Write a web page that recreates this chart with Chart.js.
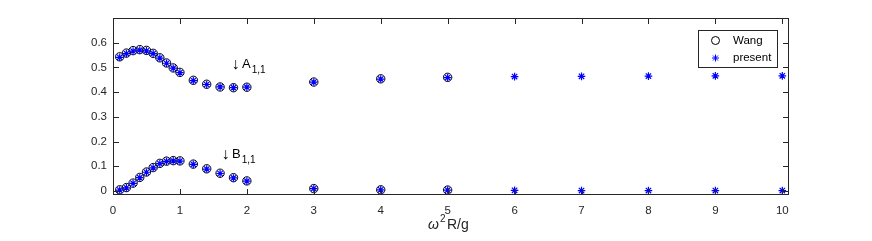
<!DOCTYPE html>
<html>
<head>
<meta charset="utf-8">
<script src="https://cdn.jsdelivr.net/npm/chart.js@4.4.0/dist/chart.umd.min.js"></script>
<style>
  html, body { margin: 0; padding: 0; background: #fff; }
  #wrap { width: 872px; height: 241px; }
</style>
</head>
<body>
<div id="wrap"><canvas id="myChart"></canvas></div>
<script>
// omega^2 R / g
var xs = [0.1, 0.2, 0.3, 0.4, 0.5, 0.6, 0.7, 0.8, 0.9, 1.0, 1.2, 1.4, 1.6, 1.8, 2.0, 3, 4, 5, 6, 7, 8, 9, 10];
var presentA = [0.541, 0.556, 0.566, 0.570, 0.567, 0.556, 0.538, 0.517, 0.497, 0.479, 0.447, 0.431, 0.421, 0.418, 0.420, 0.441, 0.453, 0.459, 0.463, 0.464, 0.465, 0.466, 0.466];
var presentB = [0.004, 0.013, 0.031, 0.054, 0.076, 0.094, 0.111, 0.120, 0.122, 0.121, 0.108, 0.089, 0.071, 0.053, 0.040, 0.010, 0.005, 0.004, 0.003, 0.002, 0.002, 0.002, 0.002];
// Wang only goes up to 5
var wangA = [0.543, 0.558, 0.568, 0.572, 0.569, 0.557, 0.539, 0.518, 0.498, 0.480, 0.448, 0.432, 0.421, 0.418, 0.420, 0.441, 0.454, 0.460];
var wangB = [0.005, 0.014, 0.032, 0.055, 0.077, 0.095, 0.112, 0.121, 0.123, 0.122, 0.109, 0.090, 0.072, 0.054, 0.041, 0.010, 0.005, 0.004];
var xTicks = [0, 1, 2, 3, 4, 5, 6, 7, 8, 9, 10];
var yTicks = [0, 0.1, 0.2, 0.3, 0.4, 0.5, 0.6];

function pts(ys) {
  return ys.map(function (y, i) { return { x: xs[i], y: y }; });
}

var axisColor = '#262626';
var fontFam = '"Liberation Sans", Arial, sans-serif';

var boxPlugin = {
  id: 'matlabBox',
  afterDraw: function (chart) {
    var c = chart.ctx, a = chart.chartArea;
    var sx = chart.scales.x, sy = chart.scales.y;
    c.save();
    c.strokeStyle = axisColor;
    c.lineWidth = 1;
    c.strokeRect(a.left + 0.5, a.top + 0.5, a.right - a.left - 1, a.bottom - a.top - 1);
    c.beginPath();
    xTicks.forEach(function (v) {
      var px = Math.round(sx.getPixelForValue(v)) + 0.5;
      c.moveTo(px, a.bottom); c.lineTo(px, a.bottom - 6);
      c.moveTo(px, a.top); c.lineTo(px, a.top + 6);
    });
    yTicks.forEach(function (v) {
      var py = Math.round(sy.getPixelForValue(v)) + 0.5;
      c.moveTo(a.left, py); c.lineTo(a.left + 6, py);
      c.moveTo(a.right, py); c.lineTo(a.right - 6, py);
    });
    c.stroke();

    // annotations
    c.fillStyle = '#000';
    c.textBaseline = 'alphabetic';
    function label(xv, yv, letter) {
      var px = sx.getPixelForValue(xv), py = sy.getPixelForValue(yv);
      c.font = '16px ' + fontFam;
      c.fillText('\u2193', px - 1, py + 1);
      c.font = '13px ' + fontFam;
      c.fillText(letter, px + 9.5, py);
      var w = c.measureText(letter).width;
      c.font = '10px ' + fontFam;
      c.fillText('1,1', px + 9.5 + w + 1, py + 4.5);
    }
    label(1.787, 0.497, 'A');
    label(1.637, 0.132, 'B');

    // x axis label
    c.font = 'italic 14px ' + fontFam;
    var lx = 428, ly = 229;
    c.fillStyle = axisColor;
    c.fillText('\u03c9', lx, ly);
    var w1 = c.measureText('\u03c9').width;
    c.font = '10px ' + fontFam;
    c.fillText('2', lx + w1 + 1, ly - 7);
    c.font = '14px ' + fontFam;
    c.fillText('R/g', lx + w1 + 8, ly);

    // legend
    var lx0 = 698, ly0 = 30, lw = 79, lh = 37;
    c.fillStyle = '#fff';
    c.fillRect(lx0, ly0, lw, lh);
    c.strokeStyle = axisColor;
    c.strokeRect(lx0 + 0.5, ly0 + 0.5, lw, lh);
    c.beginPath();
    c.strokeStyle = '#000';
    c.arc(715.5, 40.5, 4, 0, Math.PI * 2);
    c.stroke();
    c.strokeStyle = '#0000ff';
    c.beginPath();
    var r = 3.5, cx = 715.5, cy = 58;
    c.moveTo(cx - r, cy); c.lineTo(cx + r, cy);
    c.moveTo(cx, cy - r); c.lineTo(cx, cy + r);
    var d = r * 0.707;
    c.moveTo(cx - d, cy - d); c.lineTo(cx + d, cy + d);
    c.moveTo(cx - d, cy + d); c.lineTo(cx + d, cy - d);
    c.stroke();
    c.fillStyle = '#000';
    c.font = '11.5px ' + fontFam;
    c.textBaseline = 'middle';
    c.fillText('Wang', 733, 41);
    c.fillText('present', 733, 58);
    c.restore();
  }
};

var ctx = document.getElementById('myChart');
var myChart = new Chart(ctx, {
  type: 'scatter',
  data: {
    datasets: [
      { label: 'present', data: pts(presentA), order: 0, pointStyle: 'star', radius: 3.8, borderColor: '#0000ff', borderWidth: 1.2, backgroundColor: '#0000ff' },
      { label: 'present', data: pts(presentB), order: 0, pointStyle: 'star', radius: 3.8, borderColor: '#0000ff', borderWidth: 1.2, backgroundColor: '#0000ff' },
      { label: 'Wang', data: pts(wangA), order: 1, pointStyle: 'circle', radius: 4.2, borderColor: '#000', borderWidth: 1, backgroundColor: 'rgba(0,0,0,0)' },
      { label: 'Wang', data: pts(wangB), order: 1, pointStyle: 'circle', radius: 4.2, borderColor: '#000', borderWidth: 1, backgroundColor: 'rgba(0,0,0,0)' }
    ]
  },
  options: {
    responsive: true,
    maintainAspectRatio: false,
    animation: false,
    devicePixelRatio: 1,
    layout: { padding: { left: 0, top: 18, right: 83, bottom: 0 } },
    plugins: { legend: { display: false }, tooltip: { enabled: false } },
    scales: {
      x: {
        type: 'linear', min: 0, max: 10.1,
        grid: { display: false, drawTicks: false }, border: { display: false },
        afterBuildTicks: function (s) { s.ticks = xTicks.map(function (v) { return { value: v }; }); },
        afterFit: function (s) { s.height = 46; },
        ticks: { color: axisColor, font: { family: fontFam, size: 11.5 }, padding: 9, maxRotation: 0 }
      },
      y: {
        type: 'linear', min: -0.016, max: 0.7,
        grid: { display: false, drawTicks: false }, border: { display: false },
        afterBuildTicks: function (s) { s.ticks = yTicks.map(function (v) { return { value: v }; }); },
        afterFit: function (s) { s.width = 113; },
        ticks: {
          color: axisColor, font: { family: fontFam, size: 11.5 }, padding: 6,
          callback: function (v) { return v === 0 ? '0' : v.toFixed(1); }
        }
      }
    }
  },
  plugins: [boxPlugin]
});
</script>
</body>
</html>
